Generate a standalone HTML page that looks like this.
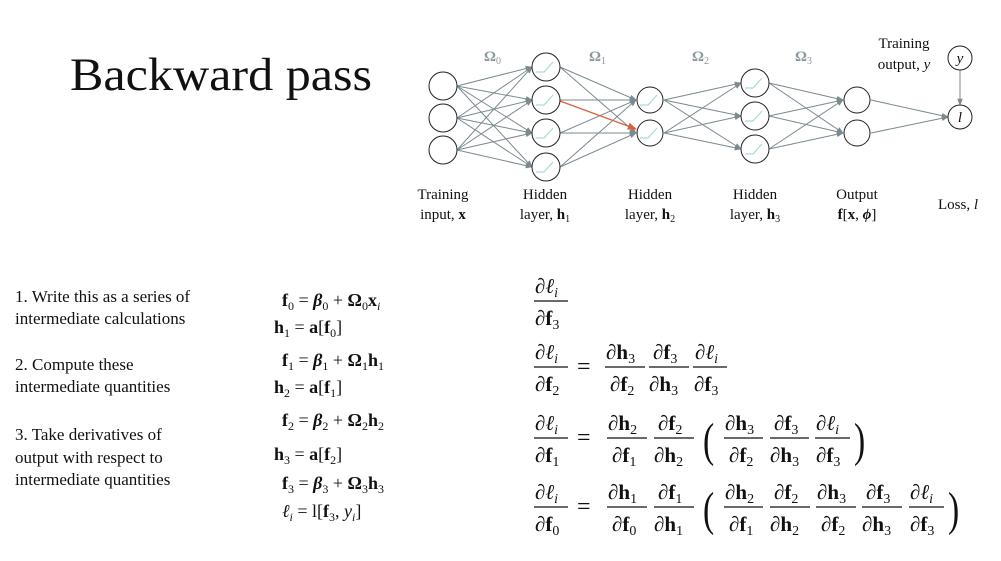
<!DOCTYPE html>
<html><head><meta charset="utf-8"><style>
html,body{margin:0;padding:0;background:#fff;}
svg{display:block;}
text{font-family:"Liberation Serif","DejaVu Serif",serif;fill:#111;}
.b{font-weight:bold;}
.it{font-style:italic;}
.om{fill:#8a979c;}
</style></head><body>
<svg width="1001" height="561" viewBox="0 0 1001 561" xmlns="http://www.w3.org/2000/svg">
<defs>
<marker id="a" viewBox="0 0 10 10" refX="9" refY="5" markerWidth="7" markerHeight="7" orient="auto"><path d="M0,1 L10,5 L0,9 z" fill="#7a8a90"/></marker>
<marker id="r" viewBox="0 0 10 10" refX="9" refY="5" markerWidth="7" markerHeight="7" orient="auto"><path d="M0,1 L10,5 L0,9 z" fill="#d9603b"/></marker>
</defs>
<text x="70" y="90" font-size="47" textLength="302" lengthAdjust="spacingAndGlyphs">Backward pass</text>

<g stroke="#7a8a90" stroke-width="1" marker-end="url(#a)">
<line x1="457" y1="86" x2="532" y2="67"/><line x1="457" y1="86" x2="532" y2="100"/><line x1="457" y1="86" x2="532" y2="133"/><line x1="457" y1="86" x2="532" y2="167"/>
<line x1="457" y1="118" x2="532" y2="67"/><line x1="457" y1="118" x2="532" y2="100"/><line x1="457" y1="118" x2="532" y2="133"/><line x1="457" y1="118" x2="532" y2="167"/>
<line x1="457" y1="150" x2="532" y2="67"/><line x1="457" y1="150" x2="532" y2="100"/><line x1="457" y1="150" x2="532" y2="133"/><line x1="457" y1="150" x2="532" y2="167"/>
<line x1="560" y1="67" x2="636" y2="100"/><line x1="560" y1="67" x2="636" y2="133"/>
<line x1="560" y1="100" x2="636" y2="100"/>
<line x1="560" y1="133" x2="636" y2="100"/><line x1="560" y1="133" x2="636" y2="133"/>
<line x1="560" y1="167" x2="636" y2="100"/><line x1="560" y1="167" x2="636" y2="133"/>
<line x1="664" y1="100" x2="741" y2="83"/><line x1="664" y1="100" x2="741" y2="116"/><line x1="664" y1="100" x2="741" y2="149"/>
<line x1="664" y1="133" x2="741" y2="83"/><line x1="664" y1="133" x2="741" y2="116"/><line x1="664" y1="133" x2="741" y2="149"/>
<line x1="769" y1="83" x2="843" y2="100"/><line x1="769" y1="83" x2="843" y2="133"/>
<line x1="769" y1="116" x2="843" y2="100"/><line x1="769" y1="116" x2="843" y2="133"/>
<line x1="769" y1="149" x2="843" y2="100"/><line x1="769" y1="149" x2="843" y2="133"/>
<line x1="871" y1="100" x2="948" y2="117"/><line x1="871" y1="133" x2="948" y2="117"/>
<line x1="960" y1="70" x2="960" y2="105"/>
</g>
<line x1="560" y1="101" x2="636" y2="129" stroke="#d9603b" stroke-width="1.3" marker-end="url(#r)"/>

<g fill="#fff" stroke="#222" stroke-width="1">
<circle cx="443" cy="86" r="14"/><circle cx="443" cy="118" r="14"/><circle cx="443" cy="150" r="14"/>
<circle cx="546" cy="67" r="14"/><circle cx="546" cy="100" r="14"/><circle cx="546" cy="133" r="14"/><circle cx="546" cy="167" r="14"/>
<circle cx="650" cy="100" r="13"/><circle cx="650" cy="133" r="13"/>
<circle cx="755" cy="83" r="14"/><circle cx="755" cy="116" r="14"/><circle cx="755" cy="149" r="14"/>
<circle cx="857" cy="100" r="13"/><circle cx="857" cy="133" r="13"/>
<circle cx="960" cy="58" r="12"/><circle cx="960" cy="117" r="12"/>
</g>
<g fill="none" stroke="#a8dcd6" stroke-width="1.3">
<path d="M536,72 h8 l9,-10"/><path d="M536,105 h8 l9,-10"/><path d="M536,138 h8 l9,-10"/><path d="M536,172 h8 l9,-10"/>
<path d="M640,105 h8 l9,-10"/><path d="M640,138 h8 l9,-10"/>
<path d="M745,88 h8 l9,-10"/><path d="M745,121 h8 l9,-10"/><path d="M745,154 h8 l9,-10"/>
</g>
<g font-size="15">
<text x="960" y="63" text-anchor="middle" class="it">y</text>
<text x="960" y="122" text-anchor="middle" class="it">l</text>
</g>
<g font-size="15">
<text x="484" y="61" class="b om">Ω<tspan font-size="10" dy="3" font-weight="normal" class="om">0</tspan></text>
<text x="589" y="61" class="b om">Ω<tspan font-size="10" dy="3" font-weight="normal" class="om">1</tspan></text>
<text x="692" y="61" class="b om">Ω<tspan font-size="10" dy="3" font-weight="normal" class="om">2</tspan></text>
<text x="795" y="61" class="b om">Ω<tspan font-size="10" dy="3" font-weight="normal" class="om">3</tspan></text>
</g>
<g font-size="15" text-anchor="middle">
<text x="904" y="48">Training</text>
<text x="904" y="69">output, <tspan class="it">y</tspan></text>
<text x="443" y="199">Training</text><text x="443" y="219">input, <tspan class="b">x</tspan></text>
<text x="545" y="199">Hidden</text><text x="545" y="219">layer, <tspan class="b">h</tspan><tspan font-size="10" dy="3">1</tspan></text>
<text x="650" y="199">Hidden</text><text x="650" y="219">layer, <tspan class="b">h</tspan><tspan font-size="10" dy="3">2</tspan></text>
<text x="755" y="199">Hidden</text><text x="755" y="219">layer, <tspan class="b">h</tspan><tspan font-size="10" dy="3">3</tspan></text>
<text x="857" y="199">Output</text><text x="857" y="219"><tspan class="b">f</tspan>[<tspan class="b">x</tspan>, <tspan class="it b">ϕ</tspan>]</text>
<text x="958" y="209">Loss, <tspan class="it">l</tspan></text>
</g>

<g font-size="17">
<text x="15" y="302">1. Write this as a series of</text>
<text x="15" y="324">intermediate calculations</text>
<text x="15" y="370">2. Compute these</text>
<text x="15" y="392">intermediate quantities</text>
<text x="15" y="440">3. Take derivatives of</text>
<text x="15" y="463">output with respect to</text>
<text x="15" y="485">intermediate quantities</text>
</g>

<g font-size="18">
<text x="282" y="306"><tspan class="b">f</tspan><tspan font-size="12" dy="4">0</tspan><tspan dy="-4"> = </tspan><tspan class="b it">β</tspan><tspan font-size="12" dy="4">0</tspan><tspan dy="-4"> + </tspan><tspan class="b">Ω</tspan><tspan font-size="12" dy="4">0</tspan><tspan dy="-4" class="b">x</tspan><tspan font-size="12" dy="4" class="it">i</tspan></text>
<text x="274" y="333"><tspan class="b">h</tspan><tspan font-size="12" dy="4">1</tspan><tspan dy="-4"> = </tspan><tspan class="b">a</tspan>[<tspan class="b">f</tspan><tspan font-size="12" dy="4">0</tspan><tspan dy="-4">]</tspan></text>
<text x="282" y="366"><tspan class="b">f</tspan><tspan font-size="12" dy="4">1</tspan><tspan dy="-4"> = </tspan><tspan class="b it">β</tspan><tspan font-size="12" dy="4">1</tspan><tspan dy="-4"> + </tspan><tspan class="b">Ω</tspan><tspan font-size="12" dy="4">1</tspan><tspan dy="-4" class="b">h</tspan><tspan font-size="12" dy="4">1</tspan></text>
<text x="274" y="393"><tspan class="b">h</tspan><tspan font-size="12" dy="4">2</tspan><tspan dy="-4"> = </tspan><tspan class="b">a</tspan>[<tspan class="b">f</tspan><tspan font-size="12" dy="4">1</tspan><tspan dy="-4">]</tspan></text>
<text x="282" y="426"><tspan class="b">f</tspan><tspan font-size="12" dy="4">2</tspan><tspan dy="-4"> = </tspan><tspan class="b it">β</tspan><tspan font-size="12" dy="4">2</tspan><tspan dy="-4"> + </tspan><tspan class="b">Ω</tspan><tspan font-size="12" dy="4">2</tspan><tspan dy="-4" class="b">h</tspan><tspan font-size="12" dy="4">2</tspan></text>
<text x="274" y="460"><tspan class="b">h</tspan><tspan font-size="12" dy="4">3</tspan><tspan dy="-4"> = </tspan><tspan class="b">a</tspan>[<tspan class="b">f</tspan><tspan font-size="12" dy="4">2</tspan><tspan dy="-4">]</tspan></text>
<text x="282" y="489"><tspan class="b">f</tspan><tspan font-size="12" dy="4">3</tspan><tspan dy="-4"> = </tspan><tspan class="b it">β</tspan><tspan font-size="12" dy="4">3</tspan><tspan dy="-4"> + </tspan><tspan class="b">Ω</tspan><tspan font-size="12" dy="4">3</tspan><tspan dy="-4" class="b">h</tspan><tspan font-size="12" dy="4">3</tspan></text>
<text x="282" y="517"><tspan class="it">ℓ</tspan><tspan font-size="12" dy="4" class="it">i</tspan><tspan dy="-4"> = l[</tspan><tspan class="b">f</tspan><tspan font-size="12" dy="4">3</tspan><tspan dy="-4">, </tspan><tspan class="it">y</tspan><tspan font-size="12" dy="4" class="it">i</tspan><tspan dy="-4">]</tspan></text>
</g>

<g font-size="21" stroke="none">
<text x="535" y="293">∂<tspan class="it">ℓ</tspan><tspan font-size="14" dy="4" class="it">i</tspan></text>
<line x1="534" y1="301" x2="568" y2="301" stroke="#111" stroke-width="1.2"/>
<text x="535" y="325">∂<tspan class="b">f</tspan><tspan font-size="14" dy="4">3</tspan></text>

<text x="535" y="359">∂<tspan class="it">ℓ</tspan><tspan font-size="14" dy="4" class="it">i</tspan></text>
<line x1="534" y1="367" x2="568" y2="367" stroke="#111" stroke-width="1.2"/>
<text x="535" y="391">∂<tspan class="b">f</tspan><tspan font-size="14" dy="4">2</tspan></text>
<text x="577" y="374" font-size="24">=</text>
<text x="606" y="359">∂<tspan class="b">h</tspan><tspan font-size="14" dy="4">3</tspan></text>
<line x1="605" y1="367" x2="645" y2="367" stroke="#111" stroke-width="1.2"/>
<text x="610" y="391">∂<tspan class="b">f</tspan><tspan font-size="14" dy="4">2</tspan></text>
<text x="653" y="359">∂<tspan class="b">f</tspan><tspan font-size="14" dy="4">3</tspan></text>
<line x1="649" y1="367" x2="689" y2="367" stroke="#111" stroke-width="1.2"/>
<text x="649" y="391">∂<tspan class="b">h</tspan><tspan font-size="14" dy="4">3</tspan></text>
<text x="695" y="359">∂<tspan class="it">ℓ</tspan><tspan font-size="14" dy="4" class="it">i</tspan></text>
<line x1="693" y1="367" x2="727" y2="367" stroke="#111" stroke-width="1.2"/>
<text x="694" y="391">∂<tspan class="b">f</tspan><tspan font-size="14" dy="4">3</tspan></text>

<text x="535" y="430">∂<tspan class="it">ℓ</tspan><tspan font-size="14" dy="4" class="it">i</tspan></text>
<line x1="534" y1="438" x2="568" y2="438" stroke="#111" stroke-width="1.2"/>
<text x="535" y="462">∂<tspan class="b">f</tspan><tspan font-size="14" dy="4">1</tspan></text>
<text x="577" y="445" font-size="24">=</text>
<text x="608" y="430">∂<tspan class="b">h</tspan><tspan font-size="14" dy="4">2</tspan></text>
<line x1="607" y1="438" x2="647" y2="438" stroke="#111" stroke-width="1.2"/>
<text x="612" y="462">∂<tspan class="b">f</tspan><tspan font-size="14" dy="4">1</tspan></text>
<text x="658" y="430">∂<tspan class="b">f</tspan><tspan font-size="14" dy="4">2</tspan></text>
<line x1="654" y1="438" x2="694" y2="438" stroke="#111" stroke-width="1.2"/>
<text x="654" y="462">∂<tspan class="b">h</tspan><tspan font-size="14" dy="4">2</tspan></text>
<text x="703" y="456" font-size="48" transform="translate(703,456) scale(0.7,1) translate(-703,-456)">(</text>
<text x="725" y="430">∂<tspan class="b">h</tspan><tspan font-size="14" dy="4">3</tspan></text>
<line x1="724" y1="438" x2="763" y2="438" stroke="#111" stroke-width="1.2"/>
<text x="729" y="462">∂<tspan class="b">f</tspan><tspan font-size="14" dy="4">2</tspan></text>
<text x="774" y="430">∂<tspan class="b">f</tspan><tspan font-size="14" dy="4">3</tspan></text>
<line x1="770" y1="438" x2="809" y2="438" stroke="#111" stroke-width="1.2"/>
<text x="770" y="462">∂<tspan class="b">h</tspan><tspan font-size="14" dy="4">3</tspan></text>
<text x="816" y="430">∂<tspan class="it">ℓ</tspan><tspan font-size="14" dy="4" class="it">i</tspan></text>
<line x1="815" y1="438" x2="850" y2="438" stroke="#111" stroke-width="1.2"/>
<text x="816" y="462">∂<tspan class="b">f</tspan><tspan font-size="14" dy="4">3</tspan></text>
<text x="854" y="456" font-size="48" transform="translate(854,456) scale(0.7,1) translate(-854,-456)">)</text>

<text x="535" y="499">∂<tspan class="it">ℓ</tspan><tspan font-size="14" dy="4" class="it">i</tspan></text>
<line x1="534" y1="507" x2="568" y2="507" stroke="#111" stroke-width="1.2"/>
<text x="535" y="531">∂<tspan class="b">f</tspan><tspan font-size="14" dy="4">0</tspan></text>
<text x="577" y="514" font-size="24">=</text>
<text x="608" y="499">∂<tspan class="b">h</tspan><tspan font-size="14" dy="4">1</tspan></text>
<line x1="607" y1="507" x2="647" y2="507" stroke="#111" stroke-width="1.2"/>
<text x="612" y="531">∂<tspan class="b">f</tspan><tspan font-size="14" dy="4">0</tspan></text>
<text x="658" y="499">∂<tspan class="b">f</tspan><tspan font-size="14" dy="4">1</tspan></text>
<line x1="654" y1="507" x2="694" y2="507" stroke="#111" stroke-width="1.2"/>
<text x="654" y="531">∂<tspan class="b">h</tspan><tspan font-size="14" dy="4">1</tspan></text>
<text x="703" y="525" font-size="48" transform="translate(703,525) scale(0.7,1) translate(-703,-525)">(</text>
<text x="725" y="499">∂<tspan class="b">h</tspan><tspan font-size="14" dy="4">2</tspan></text>
<line x1="724" y1="507" x2="763" y2="507" stroke="#111" stroke-width="1.2"/>
<text x="729" y="531">∂<tspan class="b">f</tspan><tspan font-size="14" dy="4">1</tspan></text>
<text x="774" y="499">∂<tspan class="b">f</tspan><tspan font-size="14" dy="4">2</tspan></text>
<line x1="770" y1="507" x2="810" y2="507" stroke="#111" stroke-width="1.2"/>
<text x="770" y="531">∂<tspan class="b">h</tspan><tspan font-size="14" dy="4">2</tspan></text>
<text x="817" y="499">∂<tspan class="b">h</tspan><tspan font-size="14" dy="4">3</tspan></text>
<line x1="816" y1="507" x2="856" y2="507" stroke="#111" stroke-width="1.2"/>
<text x="821" y="531">∂<tspan class="b">f</tspan><tspan font-size="14" dy="4">2</tspan></text>
<text x="866" y="499">∂<tspan class="b">f</tspan><tspan font-size="14" dy="4">3</tspan></text>
<line x1="862" y1="507" x2="902" y2="507" stroke="#111" stroke-width="1.2"/>
<text x="862" y="531">∂<tspan class="b">h</tspan><tspan font-size="14" dy="4">3</tspan></text>
<text x="910" y="499">∂<tspan class="it">ℓ</tspan><tspan font-size="14" dy="4" class="it">i</tspan></text>
<line x1="909" y1="507" x2="944" y2="507" stroke="#111" stroke-width="1.2"/>
<text x="910" y="531">∂<tspan class="b">f</tspan><tspan font-size="14" dy="4">3</tspan></text>
<text x="948" y="525" font-size="48" transform="translate(948,525) scale(0.7,1) translate(-948,-525)">)</text>
</g>
</svg>
</body></html>
